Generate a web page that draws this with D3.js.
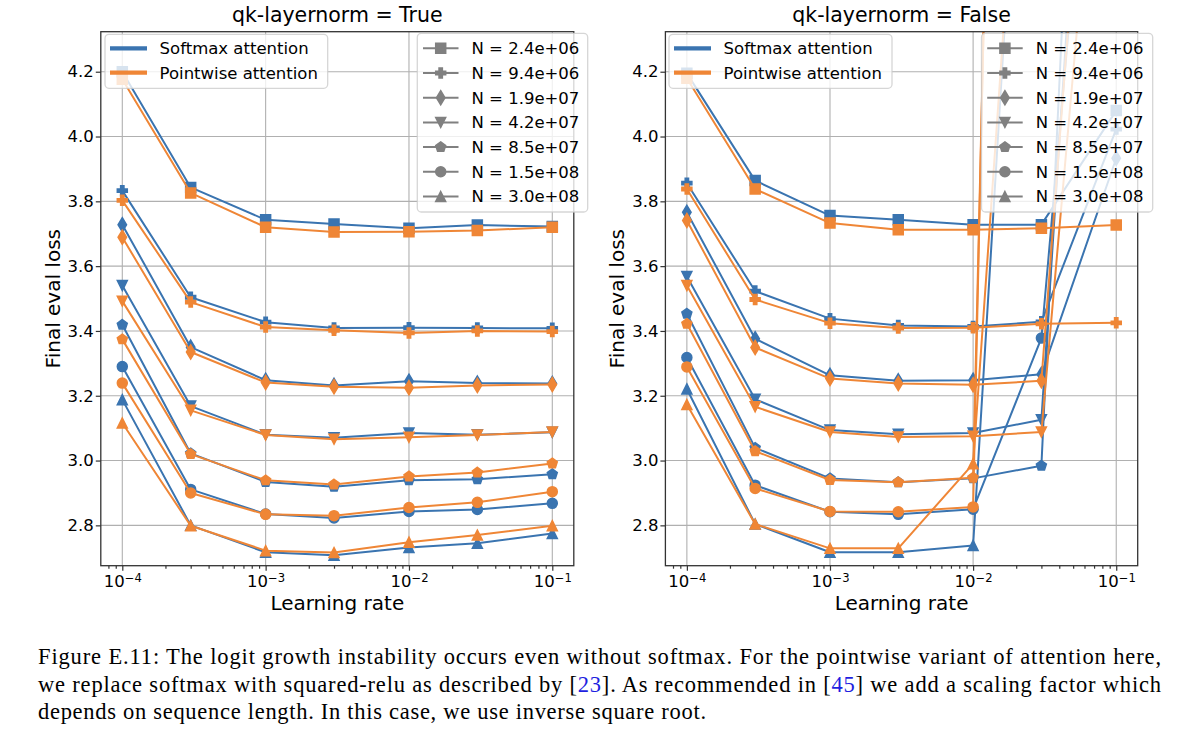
<!DOCTYPE html>
<html>
<head>
<meta charset="utf-8">
<script src="https://cdn.jsdelivr.net/npm/d3@7"></script>
<style>
  html, body { margin: 0; padding: 0; background: #ffffff; }
  svg { display: block; }
</style>
</head>
<body>
<script>
// ---------------- DATA ----------------
const learningRates = [1e-4, 3e-4, 1e-3, 3e-3, 1e-2, 3e-2, 1e-1];
const modelSizeLabels = ["N = 2.4e+06", "N = 9.4e+06", "N = 1.9e+07", "N = 4.2e+07", "N = 8.5e+07", "N = 1.5e+08", "N = 3.0e+08"];
const markerShapes = ["square", "plus", "thinDiamond", "triangleDown", "pentagon", "circle", "triangleUp"];
const attentionLabels = ["Softmax attention", "Pointwise attention"];
const panelTitles = ["qk-layernorm = True", "qk-layernorm = False"];
const yTickValues = [2.8, 3.0, 3.2, 3.4, 3.6, 3.8, 4.0, 4.2];
const xTickValues = [1e-4, 1e-3, 1e-2, 1e-1];
const xTickExponents = ["\u22124", "\u22123", "\u22122", "\u22121"];

// qk-layernorm = True (rows: N sizes, cols: learning rates)
const softmaxLnTrue = [
  [4.200, 3.843, 3.743, 3.730, 3.717, 3.727, 3.722],
  [3.833, 3.504, 3.427, 3.409, 3.410, 3.409, 3.408],
  [3.728, 3.350, 3.248, 3.232, 3.245, 3.239, 3.238],
  [3.540, 3.168, 3.080, 3.070, 3.085, 3.080, 3.087],
  [3.419, 3.022, 2.934, 2.919, 2.939, 2.942, 2.958],
  [3.290, 2.911, 2.835, 2.823, 2.843, 2.849, 2.868],
  [3.188, 2.800, 2.717, 2.708, 2.732, 2.745, 2.775]
];
const pointwiseLnTrue = [
  [4.177, 3.826, 3.720, 3.705, 3.706, 3.710, 3.720],
  [3.803, 3.489, 3.412, 3.402, 3.394, 3.400, 3.398],
  [3.689, 3.335, 3.241, 3.228, 3.225, 3.232, 3.235],
  [3.492, 3.155, 3.079, 3.066, 3.072, 3.079, 3.088],
  [3.374, 3.020, 2.939, 2.926, 2.951, 2.963, 2.991],
  [3.239, 2.900, 2.834, 2.830, 2.855, 2.871, 2.904],
  [3.116, 2.799, 2.722, 2.716, 2.748, 2.770, 2.799]
];
// qk-layernorm = False (values above 4.3 are diverged runs, off the chart)
const softmaxLnFalse = [
  [4.195, 3.864, 3.756, 3.743, 3.728, 3.728, 4.080],
  [3.856, 3.523, 3.438, 3.417, 3.414, 3.428, 4.023],
  [3.766, 3.376, 3.263, 3.246, 3.248, 3.266, 3.933],
  [3.568, 3.189, 3.094, 3.081, 3.085, 3.126, 6.7],
  [3.453, 3.039, 2.945, 2.933, 2.945, 2.984, 7.9],
  [3.318, 2.924, 2.842, 2.834, 2.850, 3.378, 6.0],
  [3.221, 2.804, 2.717, 2.717, 2.738, 6.2, 7.0]
];
const pointwiseLnFalse = [
  [4.180, 3.838, 3.733, 3.712, 3.712, 3.717, 3.727],
  [3.838, 3.497, 3.424, 3.409, 3.410, 3.422, 3.425],
  [3.741, 3.349, 3.253, 3.238, 3.234, 3.246, 6.3],
  [3.540, 3.166, 3.088, 3.073, 3.075, 3.088, 5.7],
  [3.422, 3.029, 2.940, 2.933, 2.947, 12.0, 8.0],
  [3.289, 2.914, 2.843, 2.842, 2.857, 12.5, 8.0],
  [3.173, 2.804, 2.729, 2.729, 2.990, 6.0, 8.0]
];

const captionLines = [
  [{t: "Figure E.11: The logit growth instability occurs even without softmax. For the pointwise variant of attention here,"}],
  [{t: "we replace softmax with squared-relu as described by ["}, {t: "23", link: true}, {t: "]. As recommended in ["}, {t: "45", link: true}, {t: "] we add a scaling factor which"}],
  [{t: "depends on sequence length. In this case, we use inverse square root."}]
];

// ---------------- STYLE / LAYOUT ----------------
const W = 1200, H = 747;
const colors = ["#3a74b0", "#ef8636"];
const grayMarker = "#808080";
const font = "'DejaVu Sans', sans-serif";
const plotTop = 31.7, plotBottom = 565.7;
const panelLayout = [
  {left: 100.8, right: 573.8, leg1: [105, 34.3, 222.7, 54], leg2: [417.3, 33.3, 170.4, 178.7]},
  {left: 665.4, right: 1137.7, leg1: [669, 34.3, 223, 54], leg2: [981.5, 33.3, 171.2, 178.7]}
];
const panelData = [[softmaxLnTrue, pointwiseLnTrue], [softmaxLnFalse, pointwiseLnFalse]];
const MS = 10;

function markerPath(shape, ms) {
  const h = ms / 2;
  switch (shape) {
    case "square": return `M${-h},${-h}H${h}V${h}H${-h}Z`;
    case "circle": return `M${h},0A${h},${h} 0 1,1 ${-h},0A${h},${h} 0 1,1 ${h},0Z`;
    case "triangleUp": return `M0,${-h}L${h},${h}L${-h},${h}Z`;
    case "triangleDown": return `M0,${h}L${h},${-h}L${-h},${-h}Z`;
    case "thinDiamond": {
      const dy = 0.707 * ms, dx = 0.424 * ms;
      return `M0,${-dy}L${dx},0L0,${dy}L${-dx},0Z`;
    }
    case "pentagon": {
      const pts = d3.range(5).map(k => {
        const a = (-90 + 72 * k) * Math.PI / 180;
        return [h * 1.05 * Math.cos(a), h * 1.05 * Math.sin(a)];
      });
      return "M" + pts.map(p => p.join(",")).join("L") + "Z";
    }
    case "plus": {
      const a = ms / 6, e = ms / 2;
      return `M${-a},${-e}H${a}V${-a}H${e}V${a}H${a}V${e}H${-a}V${a}H${-e}V${-a}H${-a}Z`;
    }
  }
}

const svg = d3.select("body").append("svg")
  .attr("width", W).attr("height", H)
  .attr("viewBox", `0 0 ${W} ${H}`)
  .style("font-family", font);

svg.append("rect").attr("width", W).attr("height", H).attr("fill", "#fff");

panelLayout.forEach((P, pi) => {
  const x = d3.scaleLog().domain([Math.pow(10, -4.15), Math.pow(10, -0.85)]).range([P.left, P.right]);
  const y = d3.scaleLinear().domain([2.6755, 4.3235]).range([plotBottom, plotTop]);
  const g = svg.append("g");
  const clipId = "clip" + pi;
  svg.append("clipPath").attr("id", clipId).append("rect")
    .attr("x", P.left).attr("y", plotTop)
    .attr("width", P.right - P.left).attr("height", plotBottom - plotTop);

  // grid
  const grid = g.append("g");
  grid.selectAll("line.gx").data(xTickValues).join("line")
    .attr("x1", d => x(d)).attr("x2", d => x(d))
    .attr("y1", plotTop).attr("y2", plotBottom)
    .attr("stroke", "#b0b0b0").attr("stroke-width", 1.1);
  grid.selectAll("line.gy").data(yTickValues).join("line")
    .attr("y1", d => y(d)).attr("y2", d => y(d))
    .attr("x1", P.left).attr("x2", P.right)
    .attr("stroke", "#b0b0b0").attr("stroke-width", 1.1);

  // data
  const dataG = g.append("g").attr("clip-path", `url(#${clipId})`);
  const line = d3.line().x((d, i) => x(learningRates[i])).y(d => y(d));
  panelData[pi].forEach((series, ai) => {
    series.forEach((vals, ni) => {
      const sg = dataG.append("g");
      sg.append("path").attr("d", line(vals))
        .attr("fill", "none").attr("stroke", colors[ai])
        .attr("stroke-width", 2).attr("stroke-linejoin", "round");
      sg.selectAll("path.m").data(vals).join("path")
        .attr("class", "m")
        .attr("transform", (d, i) => `translate(${x(learningRates[i])},${y(d)})`)
        .attr("d", markerPath(markerShapes[ni], MS))
        .attr("fill", colors[ai]).attr("stroke", colors[ai]).attr("stroke-width", 1.5)
        .attr("stroke-linejoin", "miter");
    });
  });

  // axes
  const minorTicks = [];
  for (let e = -5; e <= -1; e++) for (let m = 2; m <= 9; m++) {
    const v = m * Math.pow(10, e);
    if (v > x.domain()[0] && v < x.domain()[1]) minorTicks.push(v);
  }
  const gxMinor = g.append("g").attr("transform", `translate(0,${plotBottom})`)
    .call(d3.axisBottom(x).tickValues(minorTicks).tickSize(3).tickFormat(() => ""));
  const gx = g.append("g").attr("transform", `translate(0,${plotBottom})`)
    .call(d3.axisBottom(x).tickValues(xTickValues).tickSize(5).tickPadding(4.5).tickFormat(() => ""));
  gx.selectAll(".tick text").each(function (d, i) {
    const t = d3.select(this);
    t.attr("font-size", 16.5).attr("fill", "#000").attr("font-family", font).attr("text-anchor", "middle");
    t.append("tspan").text("10");
    t.append("tspan").attr("dy", "-0.42em").attr("font-size", 11.6).text(xTickExponents[i]);
  });
  const gy = g.append("g").attr("transform", `translate(${P.left},0)`)
    .call(d3.axisLeft(y).tickValues(yTickValues).tickSize(5).tickPadding(2).tickFormat(d3.format(".1f")));
  gy.selectAll(".tick text").attr("font-size", 16.5).attr("fill", "#000").attr("font-family", font);
  [gxMinor, gx, gy].forEach(a => {
    a.select(".domain").remove();
    a.selectAll(".tick line").attr("stroke", "#333").attr("stroke-width", 1.2);
  });

  // frame
  g.append("rect").attr("x", P.left).attr("y", plotTop)
    .attr("width", P.right - P.left).attr("height", plotBottom - plotTop)
    .attr("fill", "none").attr("stroke", "#333").attr("stroke-width", 1.3);

  // labels
  const cx = (P.left + P.right) / 2;
  g.append("text").attr("x", cx).attr("y", 22).attr("text-anchor", "middle")
    .attr("font-size", 20.5).attr("fill", "#000").text(panelTitles[pi]);
  g.append("text").attr("x", cx).attr("y", 609.5).attr("text-anchor", "middle")
    .attr("font-size", 20).attr("fill", "#000").text("Learning rate");
  g.append("text").attr("transform", `translate(${P.left - 48},${(plotTop + plotBottom) / 2}) rotate(-90)`)
    .attr("text-anchor", "middle").attr("dominant-baseline", "central")
    .attr("font-size", 20).attr("fill", "#000").text("Final eval loss");

  // legend 1: attention types
  const [l1x, l1y, l1w, l1h] = P.leg1;
  const L1 = g.append("g");
  L1.append("rect").attr("x", l1x).attr("y", l1y).attr("width", l1w).attr("height", l1h)
    .attr("rx", 4).attr("fill", "#fff").attr("fill-opacity", 0.8)
    .attr("stroke", "#cccccc").attr("stroke-opacity", 0.8).attr("stroke-width", 1.3);
  attentionLabels.forEach((lab, i) => {
    const ry = l1y + 14 + i * 24.4;
    L1.append("line").attr("x1", l1x + 5).attr("x2", l1x + 42).attr("y1", ry).attr("y2", ry)
      .attr("stroke", colors[i]).attr("stroke-width", 4.2);
    L1.append("text").attr("x", l1x + 54.6).attr("y", ry).attr("dy", "0.36em")
      .attr("font-size", 16.5).attr("fill", "#000").text(lab);
  });

  // legend 2: model sizes
  const [l2x, l2y, l2w, l2h] = P.leg2;
  const L2 = g.append("g");
  L2.append("rect").attr("x", l2x).attr("y", l2y).attr("width", l2w).attr("height", l2h)
    .attr("rx", 4).attr("fill", "#fff").attr("fill-opacity", 0.8)
    .attr("stroke", "#cccccc").attr("stroke-opacity", 0.8).attr("stroke-width", 1.3);
  modelSizeLabels.forEach((lab, i) => {
    const ry = l2y + 15 + i * 24.7;
    L2.append("line").attr("x1", l2x + 5.7).attr("x2", l2x + 41.2).attr("y1", ry).attr("y2", ry)
      .attr("stroke", grayMarker).attr("stroke-width", 2);
    L2.append("path").attr("transform", `translate(${l2x + 23.4},${ry})`)
      .attr("d", markerPath(markerShapes[i], MS))
      .attr("fill", grayMarker).attr("stroke", grayMarker).attr("stroke-width", 1.5);
    L2.append("text").attr("x", l2x + 54.2).attr("y", ry).attr("dy", "0.36em")
      .attr("font-size", 16.5).attr("fill", "#000").text(lab);
  });
});

// caption
const capG = svg.append("g").attr("font-family", "'Liberation Serif', 'Times New Roman', serif")
  .attr("font-size", 22.5).attr("fill", "#000");
const capBaselines = [664, 691.5, 719];
const capLengths = [1123, 1123, 668];
captionLines.forEach((parts, li) => {
  const t = capG.append("text").attr("x", 38).attr("y", capBaselines[li])
    .attr("textLength", capLengths[li]).attr("lengthAdjust", "spacing");
  parts.forEach(p => {
    t.append("tspan").attr("fill", p.link ? "#1f1fe0" : "#000").text(p.t);
  });
});
</script>
</body>
</html>
